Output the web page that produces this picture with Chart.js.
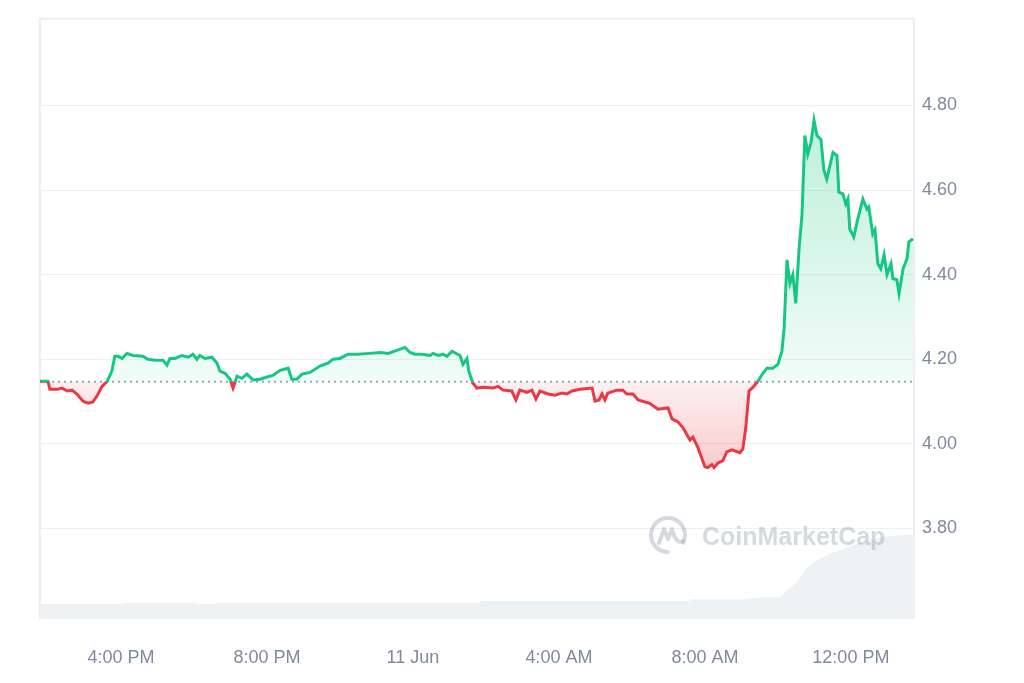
<!DOCTYPE html>
<html>
<head>
<meta charset="utf-8">
<script src="https://cdn.jsdelivr.net/npm/chart.js@4"></script>
<style>
html, body { margin: 0; padding: 0; background: #fff; }
#wrap { width: 1024px; height: 683px; }
</style>
</head>
<body>
<div id="wrap"><canvas id="priceChart" width="1024" height="683"></canvas></div>
<script>
// hours since 00:00 on 10 Jun
var priceTimes = [
    13.78, 14.00, 14.05, 14.25, 14.38, 14.52, 14.66, 14.79, 14.96, 15.10,
    15.23, 15.34, 15.48, 15.62, 15.75, 15.83, 15.92, 16.03, 16.16, 16.33,
    16.60, 16.74, 16.93, 17.15, 17.26, 17.34, 17.48, 17.67, 17.84, 17.97,
    18.08, 18.16, 18.30, 18.49, 18.63, 18.71, 18.85, 18.99, 19.07, 19.18,
    19.31, 19.45, 19.62, 19.81, 20.00, 20.16, 20.36, 20.58, 20.68, 20.82,
    20.96, 21.18, 21.45, 21.67, 21.81, 22.00, 22.22, 22.47, 22.82, 23.10,
    23.32, 23.56, 23.78, 23.92, 24.06, 24.25, 24.47, 24.55, 24.69, 24.82,
    24.93, 25.07, 25.29, 25.37, 25.48, 25.53, 25.64, 25.75, 25.92, 26.19,
    26.33, 26.47, 26.71, 26.82, 26.93, 27.12, 27.26, 27.37, 27.48, 27.70,
    27.89, 28.08, 28.22, 28.36, 28.58, 28.91, 28.99, 29.10, 29.18, 29.26,
    29.34, 29.59, 29.75, 29.86, 30.03, 30.17, 30.36, 30.49, 30.71, 30.99,
    31.10, 31.26, 31.40, 31.59, 31.67, 31.81, 32.00, 32.08, 32.19, 32.25,
    32.36, 32.49, 32.60, 32.74, 32.96, 33.04, 33.12, 33.21, 33.32, 33.45,
    33.59, 33.70, 33.86, 34.00, 34.11, 34.17, 34.25, 34.33, 34.41, 34.49,
    34.58, 34.66, 34.74, 34.82, 34.91, 34.99, 35.07, 35.18, 35.26, 35.34,
    35.51, 35.62, 35.67, 35.78, 35.86, 35.92, 35.97, 36.08, 36.17, 36.33,
    36.44, 36.49, 36.60, 36.66, 36.74, 36.82, 36.91, 36.99, 37.10, 37.15,
    37.26, 37.32, 37.43, 37.54, 37.59, 37.70
];
var prices = [
    4.148, 4.148, 4.129, 4.129, 4.132, 4.125, 4.127, 4.118, 4.101, 4.096,
    4.099, 4.113, 4.136, 4.148, 4.172, 4.207, 4.207, 4.202, 4.214, 4.209,
    4.207, 4.200, 4.198, 4.198, 4.186, 4.202, 4.202, 4.209, 4.205, 4.212,
    4.200, 4.209, 4.202, 4.205, 4.191, 4.172, 4.167, 4.153, 4.132, 4.160,
    4.155, 4.165, 4.151, 4.153, 4.158, 4.162, 4.174, 4.179, 4.153, 4.153,
    4.165, 4.169, 4.184, 4.191, 4.200, 4.202, 4.212, 4.212, 4.214, 4.216,
    4.214, 4.221, 4.228, 4.216, 4.212, 4.212, 4.209, 4.214, 4.209, 4.212,
    4.207, 4.219, 4.209, 4.188, 4.202, 4.172, 4.144, 4.132, 4.134, 4.132,
    4.136, 4.127, 4.125, 4.104, 4.127, 4.122, 4.127, 4.106, 4.125, 4.118,
    4.115, 4.120, 4.118, 4.125, 4.129, 4.132, 4.101, 4.104, 4.118, 4.104,
    4.120, 4.127, 4.127, 4.118, 4.118, 4.104, 4.099, 4.096, 4.082, 4.085,
    4.059, 4.052, 4.038, 4.009, 4.016, 3.991, 3.946, 3.944, 3.951, 3.944,
    3.955, 3.960, 3.981, 3.986, 3.979, 3.988, 4.038, 4.125, 4.134, 4.148,
    4.167, 4.179, 4.179, 4.188, 4.219, 4.273, 4.435, 4.379, 4.400, 4.332,
    4.461, 4.541, 4.729, 4.685, 4.713, 4.765, 4.729, 4.720, 4.647, 4.626,
    4.689, 4.682, 4.595, 4.591, 4.567, 4.579, 4.508, 4.489, 4.525, 4.579,
    4.555, 4.560, 4.496, 4.506, 4.426, 4.414, 4.447, 4.400, 4.426, 4.391,
    4.388, 4.355, 4.414, 4.438, 4.478, 4.485
];
var openPrice = 4.147;

var volTimes = [13.78, 16.05, 16.05, 18.08, 18.08, 18.63, 18.63, 25.84, 25.84, 31.59, 31.59,
    33.15, 33.42, 34.06, 34.25, 34.52, 34.80, 35.07, 35.43, 35.89, 36.44, 36.99, 37.70];
var volumes = [2.5, 2.5, 2.7, 2.7, 2.5, 2.5, 2.7, 2.7, 3.0, 3.0, 3.3,
    3.3, 3.6, 3.6, 4.8, 6.1, 8.6, 9.8, 10.9, 11.9, 13.1, 13.8, 14.1];

var tickHours = [16, 20, 24, 28, 32, 36];
var tickLabels = ['4:00 PM', '8:00 PM', '11 Jun', '4:00 AM', '8:00 AM', '12:00 PM'];
var priceTicks = [3.80, 4.00, 4.20, 4.40, 4.60, 4.80];

var xMin = 13.78, xMax = 37.73;
var green = '#16c784';
var red = '#ea3943';
var labelFont = { family: "'Liberation Sans', Arial, sans-serif", size: 18 };
var labelColor = '#808a9d';

function splitStop(top, bottom, px) {
    var t = (px - top) / (bottom - top);
    return Math.min(1, Math.max(0, t));
}

function lineColor(context) {
    var chart = context.chart;
    var area = chart.chartArea;
    if (!area) return green;
    var basePx = chart.scales.y.getPixelForValue(openPrice);
    var g = chart.ctx.createLinearGradient(0, area.top, 0, area.bottom);
    var t = splitStop(area.top, area.bottom, basePx);
    g.addColorStop(0, green);
    g.addColorStop(t, green);
    g.addColorStop(t, red);
    g.addColorStop(1, red);
    return g;
}

function areaColor(context) {
    var chart = context.chart;
    if (!chart.chartArea) return 'rgba(22,199,132,0.1)';
    var y = chart.scales.y;
    var topPx = y.getPixelForValue(Math.max.apply(null, prices));
    var botPx = y.getPixelForValue(Math.min.apply(null, prices));
    var basePx = y.getPixelForValue(openPrice);
    var g = chart.ctx.createLinearGradient(0, topPx, 0, botPx);
    var t = splitStop(topPx, botPx, basePx);
    g.addColorStop(0, 'rgba(22,199,132,0.28)');
    g.addColorStop(t, 'rgba(22,199,132,0.06)');
    g.addColorStop(t, 'rgba(234,57,67,0.08)');
    g.addColorStop(1, 'rgba(234,57,67,0.26)');
    return g;
}

var framePlugin = {
    id: 'frame',
    beforeDatasetsDraw: function(chart) {
        var ctx = chart.ctx, a = chart.chartArea;
        ctx.save();
        ctx.strokeStyle = '#eceef1';
        ctx.lineWidth = 2;
        ctx.beginPath();
        ctx.moveTo(a.left, a.bottom);
        ctx.lineTo(a.left, a.top);
        ctx.lineTo(a.right, a.top);
        ctx.lineTo(a.right, a.bottom);
        ctx.stroke();
        ctx.restore();
    },
    afterDatasetsDraw: function(chart) {
        // CoinMarketCap watermark
        var ctx = chart.ctx;
        var cx = 668, cy = 535;
        ctx.save();
        ctx.strokeStyle = 'rgba(128,138,157,0.32)';
        ctx.fillStyle = 'rgba(128,138,157,0.32)';
        ctx.lineWidth = 4;
        ctx.lineCap = 'round';
        ctx.lineJoin = 'round';
        ctx.beginPath();
        ctx.arc(cx, cy, 17, 0.5 * Math.PI, 2.15 * Math.PI);
        ctx.stroke();
        ctx.beginPath();
        ctx.moveTo(cx - 9, cy + 8);
        ctx.lineTo(cx - 4, cy - 6);
        ctx.lineTo(cx, cy + 4);
        ctx.lineTo(cx + 4, cy - 6);
        ctx.quadraticCurveTo(cx + 8, cy + 10, cx + 15, cy + 6);
        ctx.stroke();
        ctx.font = "bold 25px 'Liberation Sans', Arial, sans-serif";
        ctx.textBaseline = 'alphabetic';
        ctx.fillText('CoinMarketCap', 702, 545);
        ctx.restore();
    }
};

var priceData = priceTimes.map(function(t, i) { return { x: t, y: prices[i] }; });
var volData = volTimes.map(function(t, i) { return { x: t, y: volumes[i] }; });

new Chart(document.getElementById('priceChart'), {
    type: 'line',
    data: {
        datasets: [
            {
                label: 'Price',
                data: priceData,
                borderColor: lineColor,
                backgroundColor: areaColor,
                borderWidth: 3,
                pointRadius: 0,
                tension: 0,
                fill: { value: openPrice },
                order: 1
            },
            {
                label: 'Open',
                data: [{ x: xMin, y: openPrice }, { x: xMax, y: openPrice }],
                borderColor: '#9ea6b8',
                borderWidth: 2,
                borderDash: [2, 4],
                pointRadius: 0,
                fill: false,
                order: 2
            },
            {
                label: 'Volume',
                data: volData,
                yAxisID: 'yVol',
                borderColor: '#eff2f5',
                borderWidth: 0,
                backgroundColor: '#eff2f5',
                pointRadius: 0,
                fill: 'origin',
                order: 3
            }
        ]
    },
    options: {
        responsive: false,
        animation: false,
        layout: { padding: { left: 40, top: 14 } },
        plugins: {
            legend: { display: false },
            tooltip: { enabled: false }
        },
        scales: {
            x: {
                type: 'linear',
                min: xMin,
                max: xMax,
                afterBuildTicks: function(axis) {
                    axis.ticks = tickHours.map(function(v) { return { value: v }; });
                },
                afterFit: function(axis) { axis.height = 64; },
                ticks: {
                    autoSkip: false,
                    maxRotation: 0,
                    padding: 28,
                    color: labelColor,
                    font: labelFont,
                    callback: function(value) {
                        return tickLabels[tickHours.indexOf(value)];
                    }
                },
                grid: { display: false, drawTicks: false },
                border: { display: false }
            },
            y: {
                position: 'right',
                min: 3.586,
                max: 5.005,
                afterBuildTicks: function(axis) {
                    axis.ticks = priceTicks.map(function(v) { return { value: v }; });
                },
                afterFit: function(axis) { axis.width = 110; },
                ticks: {
                    padding: 8,
                    color: labelColor,
                    font: labelFont,
                    callback: function(value) { return value.toFixed(2); }
                },
                grid: { color: '#eff0f3', lineWidth: 1, drawTicks: false },
                border: { display: false }
            },
            yVol: {
                display: false,
                min: 0,
                max: 100
            }
        }
    },
    plugins: [framePlugin]
});
</script>
</body>
</html>
